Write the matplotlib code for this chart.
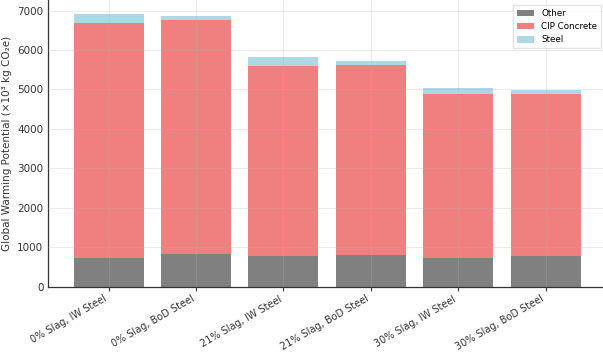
import numpy as np
import matplotlib.pyplot as plt

scenarios = ["0% Slag, IW Steel", "0% Slag, BoD Steel", "21% Slag, IW Steel",
             "21% Slag, BoD Steel", "30% Slag, IW Steel", "30% Slag, BoD Steel"]
other = [730, 840, 770, 806, 730, 790]
cip_concrete = [5960, 5910, 4835, 4817, 4155, 4095]
steel = [230, 110, 210, 95, 155, 100]

plt.rcParams['font.family'] = ['DejaVu Sans']

fig = plt.figure(figsize=(6.03, 3.52), dpi=100)
ax = fig.add_axes([0.08, 0.185, 0.925, 0.815])

x = np.arange(len(scenarios))
other = np.array(other)
cip_concrete = np.array(cip_concrete)
steel = np.array(steel)

ax.bar(x, other, width=0.8, color='#808080', label='Other', zorder=2)
ax.bar(x, cip_concrete, width=0.8, bottom=other, color='#F08080', label='CIP Concrete', zorder=2)
ax.bar(x, steel, width=0.8, bottom=other + cip_concrete, color='#ADD8E6', label='Steel', zorder=2)

# faint grid drawn over the bars like the original
ax.grid(True, color='#b0b0b0', linewidth=0.6, alpha=0.3, zorder=3)
ax.set_axisbelow(False)

ax.set_xticks(x)
ax.set_xticklabels(scenarios, rotation=30, ha='right', fontsize=7, color='#333333')
ax.tick_params(axis='y', labelsize=7.5, colors='#333333', length=0)
ax.tick_params(axis='x', length=3, width=0.8, color='#333333', pad=2)
ax.set_ylabel('Global Warming Potential (×10³ kg CO₂e)', fontsize=7.5, color='#333333')

for side in ['top', 'right']:
    ax.spines[side].set_visible(False)
for side in ['left', 'bottom']:
    ax.spines[side].set_color('#333333')
    ax.spines[side].set_linewidth(0.9)

ax.legend(loc='upper right', fontsize=6.3, frameon=True, edgecolor='#dddddd',
          fancybox=False, borderaxespad=0.6)

fig.savefig('out.png', dpi=100)
